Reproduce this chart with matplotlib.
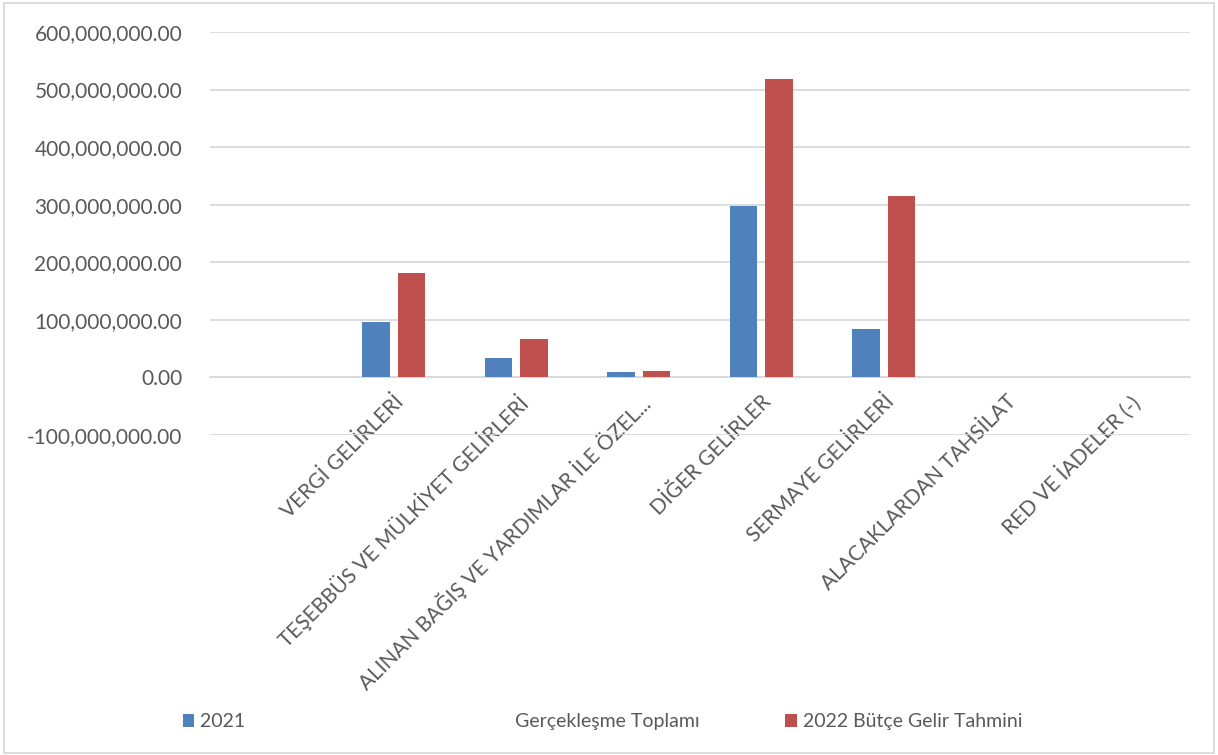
import matplotlib
matplotlib.use("Agg")
import matplotlib.pyplot as plt
import numpy as np
from matplotlib.ticker import FuncFormatter
from matplotlib.patches import Rectangle

categories = ["VERGİ GELİRLERİ", "TEŞEBBÜS VE MÜLKİYET GELİRLERİ",
              "ALINAN BAĞIŞ VE YARDIMLAR İLE ÖZEL...", "DİĞER GELİRLER",
              "SERMAYE GELİRLERİ", "ALACAKLARDAN TAHSİLAT", "RED VE İADELER (-)"]
values_2021 = [97e6, 33.5e6, 9.8e6, 297e6, 84e6, 0, 0]
values_2022 = [182e6, 66.5e6, 11.5e6, 519e6, 315e6, 0, 0]
series_names = ["2021" + " " * 54 + "Gerçekleşme Toplamı", "2022 Bütçe Gelir Tahmini"]
yticks = [-100e6, 0, 100e6, 200e6, 300e6, 400e6, 500e6, 600e6]

plt.rcParams['font.family'] = ['Lato', 'DejaVu Sans']
txt = '#595959'
grid = '#D9D9D9'

W, H = 1218, 755
fig = plt.figure(figsize=(W / 100, H / 100), dpi=100)
fig.patches.append(Rectangle((4 / W, 2 / H), 1 - 8 / W, 1 - 5 / H, transform=fig.transFigure,
                             fill=False, edgecolor=grid, lw=1.3))
ax = fig.add_axes([210 / W, 1 - 435 / H, 980 / W, 403 / H])

x = np.arange(len(categories))
bw = 0.224
off = 0.145
ax.bar(x - off, values_2021, bw, color='#4F81BD', label=series_names[0], zorder=3)
ax.bar(x + off, values_2022, bw, color='#C0504D', label=series_names[1], zorder=3)

ax.set_xlim(-1.5, 6.5)
ax.set_ylim(-100e6, 600e6)
ax.set_yticks(yticks)
ax.yaxis.set_major_formatter(FuncFormatter(lambda v, p: f"{v:,.2f}"))
ax.yaxis.grid(True, color=grid, lw=1.3)
ax.set_axisbelow(True)
for s in ['left', 'right', 'top']:
    ax.spines[s].set_visible(False)
ax.spines['bottom'].set_position(('data', 0))
ax.spines['bottom'].set_color(grid)
ax.spines['bottom'].set_linewidth(1.3)

ax.set_xticks(x)
ax.set_xticklabels(categories, rotation=45, ha='right', rotation_mode='anchor',
                   fontsize=15, color=txt)
ax.tick_params(axis='x', length=0, pad=10)
ax.tick_params(axis='y', length=0, pad=20, labelsize=15, labelcolor=txt)

leg = fig.legend(loc='lower left', bbox_to_anchor=(165 / W, 1 - 748 / H), ncol=2,
                 frameon=False, fontsize=14, labelcolor=txt, handlelength=0.6,
                 handleheight=0.6, handletextpad=0.3, columnspacing=4.4)

fig.savefig("out.png", dpi=100)
